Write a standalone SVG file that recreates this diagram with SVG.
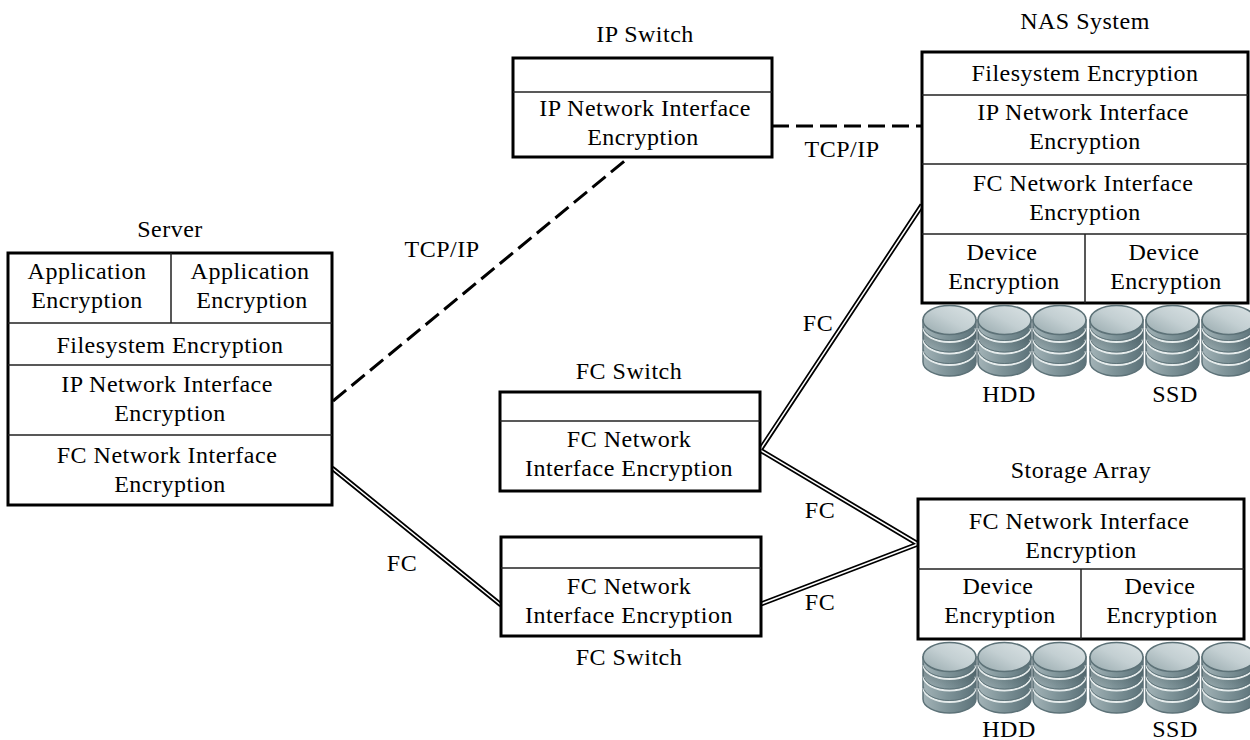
<svg xmlns="http://www.w3.org/2000/svg" width="1250" height="740" viewBox="0 0 1250 740">
<style>
text{font-family:"Liberation Serif",serif;font-size:24px;fill:#000;text-anchor:middle;letter-spacing:.5px}
.box{fill:#fff;stroke:#000;stroke-width:3}
.div{fill:none;stroke:#222;stroke-width:1.5}
.dash{fill:none;stroke:#000;stroke-width:3;stroke-dasharray:17 7}
.fo{fill:none;stroke:#000;stroke-width:5}
.fi{fill:none;stroke:#fff;stroke-width:1.5}
</style>
<defs>
<linearGradient id="side" x1="0" x2="1" y1="0" y2="0"><stop offset="0" stop-color="#a3b3b7"/><stop offset=".45" stop-color="#7f9499"/><stop offset="1" stop-color="#5c7279"/></linearGradient>
<linearGradient id="shade" x1="0" x2="0" y1="0" y2="1"><stop offset="0" stop-color="#3f5358" stop-opacity=".55"/><stop offset=".45" stop-color="#3f5358" stop-opacity="0"/></linearGradient>
<linearGradient id="top" x1="0" x2="1" y1="1" y2="0"><stop offset="0" stop-color="#96a8ac"/><stop offset=".5" stop-color="#c3cfd2"/><stop offset="1" stop-color="#dbe3e5"/></linearGradient>
<g id="disk">
<path d="M0 15V57A26.500 14 0 0 0 53 57V15z" fill="url(#side)" stroke="#5d7278" stroke-width="1.500"/>
<path d="M0 23A26.500 14 0 0 0 53 23V36A26.500 14 0 0 1 0 36z M0 34.500A26.500 14 0 0 0 53 34.500V47A26.500 14 0 0 1 0 47z M0 46A26.500 14 0 0 0 53 46V58A26.500 14 0 0 1 0 58z" fill="url(#shade)"/>
<path d="M.5 23A26 14 0 0 0 52.500 23M.5 34.500A26 14 0 0 0 52.500 34.500M.5 46A26 14 0 0 0 52.500 46" fill="none" stroke="#e6ecec" stroke-width="1.800"/>
<path d="M.5 21.500A26 14 0 0 0 52.500 21.500M.5 33A26 14 0 0 0 52.500 33M.5 44.500A26 14 0 0 0 52.500 44.500" fill="none" stroke="#5d7278" stroke-width="1"/>
<ellipse cx="26.500" cy="15" rx="26.500" ry="14.500" fill="url(#top)" stroke="#5d7278" stroke-width="1.500"/>
</g>
<g id="stack"><use href="#disk" x="0"/><use href="#disk" x="55"/><use href="#disk" x="110"/><use href="#disk" x="167"/><use href="#disk" x="223"/><use href="#disk" x="279"/></g>
</defs>
<g id="connectors">
<path class="dash" d="M333 401L627 159"/>
<path class="dash" d="M772 126H922"/>
<path class="fo" d="M332 468L501 605M760 450L922 205M760 450L918 544M761 604L918 544"/>
<path class="fi" d="M332 468L501 605M760 450L922 205M760 450L918 544M761 604L918 544"/>
</g>
<g id="server">
<rect class="box" x="8" y="253" width="324" height="252"/>
<path class="div" d="M8 323H332M8 365H332M8 435H332M171 253V323"/>
<text x="170" y="237">Server</text>
<text x="87" y="279">Application</text><text x="87" y="308">Encryption</text>
<text x="250" y="279">Application</text><text x="252" y="308">Encryption</text>
<text x="170" y="353">Filesystem Encryption</text>
<text x="167" y="392">IP Network Interface</text><text x="170" y="421">Encryption</text>
<text x="167" y="463">FC Network Interface</text><text x="170" y="492">Encryption</text>
</g>
<g id="ip-switch">
<rect class="box" x="513" y="58" width="259" height="99"/>
<path class="div" d="M513 92H772"/>
<text x="645" y="42">IP Switch</text>
<text x="645" y="116">IP Network Interface</text><text x="643" y="145">Encryption</text>
</g>
<g id="nas-system">
<rect class="box" x="922" y="52" width="326" height="251"/>
<path class="div" d="M922 95H1248M922 164H1248M922 234H1248M1085 234V303"/>
<text x="1085" y="29">NAS System</text>
<text x="1085" y="81">Filesystem Encryption</text>
<text x="1083" y="120">IP Network Interface</text><text x="1085" y="149">Encryption</text>
<text x="1083" y="191">FC Network Interface</text><text x="1085" y="220">Encryption</text>
<text x="1002" y="260">Device</text><text x="1004" y="289">Encryption</text>
<text x="1164" y="260">Device</text><text x="1166" y="289">Encryption</text>
</g>
<g id="nas-disks">
<use href="#stack" x="923" y="305"/>
<text x="1009" y="402">HDD</text><text x="1175" y="402">SSD</text>
</g>
<g id="fc-switch-1">
<rect class="box" x="500" y="392" width="260" height="99"/>
<path class="div" d="M500 421H760"/>
<text x="629" y="379">FC Switch</text>
<text x="629" y="447">FC Network</text><text x="629" y="476">Interface Encryption</text>
</g>
<g id="fc-switch-2">
<rect class="box" x="501" y="537" width="260" height="99"/>
<path class="div" d="M501 568H761"/>
<text x="629" y="665">FC Switch</text>
<text x="629" y="594">FC Network</text><text x="629" y="623">Interface Encryption</text>
</g>
<g id="storage-array">
<rect class="box" x="918" y="499" width="326" height="140"/>
<path class="div" d="M918 569H1244M1081 569V639"/>
<text x="1081" y="478">Storage Array</text>
<text x="1079" y="529">FC Network Interface</text><text x="1081" y="558">Encryption</text>
<text x="998" y="594">Device</text><text x="1000" y="623">Encryption</text>
<text x="1160" y="594">Device</text><text x="1162" y="623">Encryption</text>
</g>
<g id="array-disks">
<use href="#stack" x="923" y="642"/>
<text x="1009" y="737">HDD</text><text x="1175" y="737">SSD</text>
</g>
<g id="connector-labels">
<text x="442" y="257">TCP/IP</text>
<text x="842" y="157">TCP/IP</text>
<text x="818" y="331">FC</text>
<text x="820" y="518">FC</text>
<text x="402" y="571">FC</text>
<text x="820" y="610">FC</text>
</g>
</svg>
